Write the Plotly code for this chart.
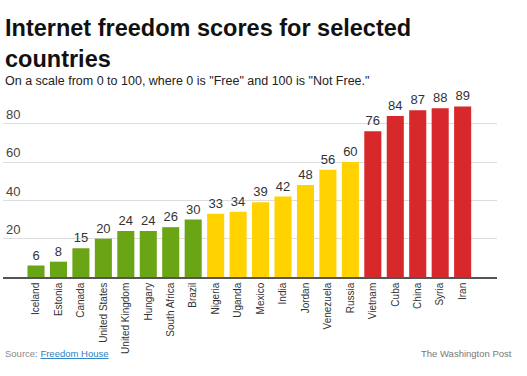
import plotly.graph_objects as go

countries = ["Iceland", "Estonia", "Canada", "United States", "United Kingdom", "Hungary",
             "South Africa", "Brazil", "Nigeria", "Uganda", "Mexico", "India", "Jordan",
             "Venezuela", "Russia", "Vietnam", "Cuba", "China", "Syria", "Iran"]
scores = [6, 8, 15, 20, 24, 24, 26, 30, 33, 34, 39, 42, 48, 56, 60, 76, 84, 87, 88, 89]
status = ["Free"] * 8 + ["Partly Free"] * 7 + ["Not Free"] * 5
status_colors = {"Free": "#6aa516", "Partly Free": "#ffd200", "Not Free": "#d7282b"}
ytick_vals = [20, 40, 60, 80]

FONT = "Liberation Sans, Arial, sans-serif"

fig = go.Figure(go.Bar(
    x=countries, y=scores,
    marker=dict(color=[status_colors[s] for s in status], line=dict(width=0)),
    width=0.76,
    text=scores, textposition="outside", cliponaxis=False,
    textfont=dict(family=FONT, size=13, color="#333333"),
    hoverinfo="x+y",
))

# pixel helpers: plot area x 3..497, y 100..277
def py(p):
    return (277 - p) / 177.0

def px(p):
    return (p - 3) / 494.0

fig.update_layout(
    width=527, height=376,
    margin=dict(l=3, r=30, t=100, b=99, autoexpand=False),
    paper_bgcolor="white", plot_bgcolor="white",
    showlegend=False, bargap=0.24,
    font=dict(family=FONT, color="#333333"),
    xaxis=dict(range=[-1.47, 20.53], tickangle=-90, showgrid=False, automargin=False,
               tickfont=dict(family=FONT, size=10, color="#333333"),
               showline=True, linecolor="#555555", linewidth=1.5,
               ticks="", fixedrange=True),
    yaxis=dict(range=[0, 92.35], tickvals=ytick_vals, ticklabelposition="inside top",
               showgrid=True, gridcolor="#dddddd", gridwidth=1, zeroline=False,
               automargin=False,
               tickfont=dict(family=FONT, size=13, color="#444444"), ticks="",
               fixedrange=True),
    annotations=[
        dict(text="<b>Internet freedom scores for selected<br>countries</b>",
             xref="paper", yref="paper", x=px(3), y=py(13), xanchor="left", yanchor="top",
             align="left", showarrow=False,
             font=dict(family=FONT, size=23.5, color="#111111")),
        dict(text='On a scale from 0 to 100, where 0 is "Free" and 100 is "Not Free."',
             xref="paper", yref="paper", x=px(3), y=py(81), xanchor="left", yanchor="middle",
             showarrow=False, font=dict(family=FONT, size=12.5, color="#222222")),
        dict(text='Source: <a href="https://freedomhouse.org" style="color:#2a7fc0"><u>Freedom House</u></a>',
             xref="paper", yref="paper", x=px(3), y=py(353), xanchor="left", yanchor="middle",
             showarrow=False, font=dict(family=FONT, size=9.5, color="#888888")),
        dict(text="The Washington Post",
             xref="paper", yref="paper", x=px(514), y=py(353), xanchor="right", yanchor="middle",
             showarrow=False, font=dict(family=FONT, size=9.5, color="#777777")),
    ],
)

fig.write_html("out.html", config={"displayModeBar": False},
               post_script="document.body.style.margin='0';document.body.style.padding='0';")
